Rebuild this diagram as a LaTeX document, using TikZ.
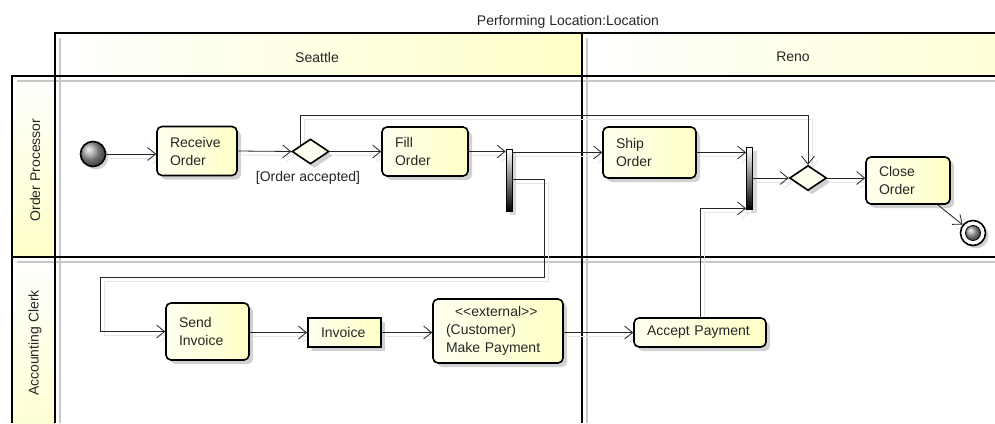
\documentclass[tikz,border=0pt]{standalone}
\usepackage{fontspec}
\setmainfont{Liberation Sans}
\usetikzlibrary{arrows.meta,shapes.geometric,shadows}
\definecolor{nodeL}{HTML}{FFFFF0}
\definecolor{nodeR}{HTML}{FFFFC6}
\definecolor{hdrY}{HTML}{FFFFC8}
\pgfdeclarelayer{bg}\pgfdeclarelayer{esh}\pgfsetlayers{bg,esh,main}
\newcommand\flowline[1]{%
  \begin{pgfonlayer}{esh}\begin{scope}[transform canvas={xshift=4pt,yshift=-4pt}]\draw[eshadow] #1;\end{scope}\end{pgfonlayer}
  \draw[flow] #1;}
\begin{document}
\begin{tikzpicture}[x=1pt,y=-1pt,font=\fontsize{14}{18}\selectfont,
  act/.style={draw=black, line width=1.6pt, rounded corners=5pt, left color=nodeL, right color=nodeR,
    inner xsep=13pt, inner ysep=0pt, align=left, text=black!85,
    drop shadow={shadow xshift=4pt,shadow yshift=-4pt,opacity=0.18,fill=black}},
  objbox/.style={act, rounded corners=0pt, line width=2pt},
  bar/.style={draw=black, line width=0.8pt, top color=white, bottom color=black, minimum width=6pt,
    minimum height=62pt, inner sep=0pt, drop shadow={shadow xshift=4pt,shadow yshift=-4pt,opacity=0.15,fill=black}},
  decide/.style={diamond, draw=black, line width=1.6pt, fill=nodeL, aspect=1.5, minimum width=37pt,
    minimum height=25pt, inner sep=0pt, drop shadow={shadow xshift=4pt,shadow yshift=-4pt,opacity=0.18,fill=black}},
  startnode/.style={circle, draw=black, line width=1.6pt, shading=ball, ball color=gray!75, minimum size=25pt,
    inner sep=0pt, drop shadow={shadow xshift=3pt,shadow yshift=-3pt,opacity=0.18,fill=black}},
  flow/.style={draw=black!85, line width=0.8pt, -{Straight Barb[length=8pt,width=13pt,line width=0.8pt]}},
  eshadow/.style={draw=black!10, line width=1pt, -{Straight Barb[length=8pt,width=13pt,line width=1pt]}},
  frame/.style={draw=black, line width=2.2pt},
  fshadow/.style={draw=black!22, line width=2.5pt},
  lbl/.style={text=black!85, inner sep=0pt}]
\useasboundingbox (0,0) rectangle (995,423);

% ---------- frame ----------
\begin{pgfonlayer}{bg}
  \shade[left color=white, right color=hdrY] (55,33) rectangle (582,76);
  \shade[left color=white, right color=hdrY] (582,33) rectangle (1160,76);
  \shade[top color=white, bottom color=hdrY] (12,76) rectangle (55,257);
  \shade[top color=white, bottom color=hdrY] (12,257) rectangle (55,470);
  \draw[fshadow] (60,38) -- (60,423);
  \draw[fshadow] (587,38) -- (587,423);
  \draw[fshadow] (17,81) -- (995,81);
  \draw[fshadow] (17,262) -- (995,262);
  \draw[frame] (55,423) -- (55,33) -- (995,33);
  \draw[frame] (12,423) -- (12,76) -- (995,76);
  \draw[frame] (582,33) -- (582,423);
  \draw[frame] (12,257) -- (995,257);
\end{pgfonlayer}

\node[lbl] (title) at (568,22) {Performing Location:Location};
\node[lbl] (seattle) at (317,57) {Seattle};
\node[lbl] (reno) at (793,57) {Reno};
\node[lbl, rotate=90] (lane1) at (35,170) {Order Processor};
\node[lbl, rotate=90] (lane2) at (35,343) {Accounting Clerk};

% ---------- nodes ----------
\node[startnode] (init) at (93,154) {};
\node[act, text width=54pt, minimum height=49pt] (recv) at (197,151) {Receive\\Order};
\node[decide] (d1) at (310.5,151.5) {};
\node[lbl] (guard) at (308,178) {[Order accepted]};
\node[act, text width=60pt, minimum height=49pt] (fill) at (425,151.5) {Fill\\Order};
\node[bar] (fork1) at (509,180) {};
\node[act, text width=67pt, minimum height=51pt] (ship) at (649.5,152.5) {Ship\\Order};
\node[bar] (join) at (749.5,178) {};
\node[decide] (d2) at (808,178) {};
\node[act, text width=58pt, minimum height=47pt] (close) at (908,180.5) {Close\\Order};
\node[circle, draw=black, line width=1.6pt, fill=white, minimum size=25pt, inner sep=0pt,
  drop shadow={shadow xshift=3pt,shadow yshift=-3pt,opacity=0.18,fill=black}] (final) at (973,233) {};
\node[circle, draw=black, line width=0.8pt, shading=ball, ball color=gray!75, minimum size=15pt, inner sep=0pt] (finalin) at (final) {};

\node[act, text width=57pt, minimum height=57pt] (send) at (207.5,331.5) {Send\\Invoice};
\node[objbox, text width=47pt, minimum height=29pt] (inv) at (344.5,332.5) {Invoice};
\node[act, text width=104pt, minimum height=64pt] (pay) at (498,331) {\hspace*{9pt}<\kern0pt<external>\kern0pt>\\(Customer)\\Make Payment};
\node[act, text width=106pt, minimum height=29pt] (acc) at (700,332.5) {Accept Payment};

% ---------- bend points ----------
\coordinate (lp) at (808,115);
\coordinate (b1) at (544,179);
\coordinate (b2) at (544,277);
\coordinate (b3) at (100,277);

% ---------- flows ----------
\flowline{(init) -- (recv.west |- init)}
\flowline{(recv.east) -- (d1.west)}
\flowline{(d1.east) -- (fill.west |- d1.east)}
\flowline{(fill.east) -- (fork1.west |- fill.east)}
\flowline{(fork1.east |- ship.west) -- (ship.west)}
\flowline{(fork1.east |- b1) -- (b1) -- (b2) -- (b3) |- (send.west)}
\flowline{(d1.north west) |- (lp) -- (d2.north)}
\flowline{(ship.east) -- (join.west |- ship.east)}
\flowline{(join.east |- d2.west) -- (d2.west)}
\flowline{(d2.east) -- (close.west |- d2.east)}
\flowline{([xshift=-13pt]close.south east) -- (final)}
\flowline{(send.east |- inv.west) -- (inv.west)}
\flowline{(inv.east) -- (pay.west |- inv.east)}
\flowline{(pay.east |- acc.west) -- (acc.west)}
\flowline{(acc.north) |- ([yshift=1pt]join.south west)}
\end{tikzpicture}
\end{document}
